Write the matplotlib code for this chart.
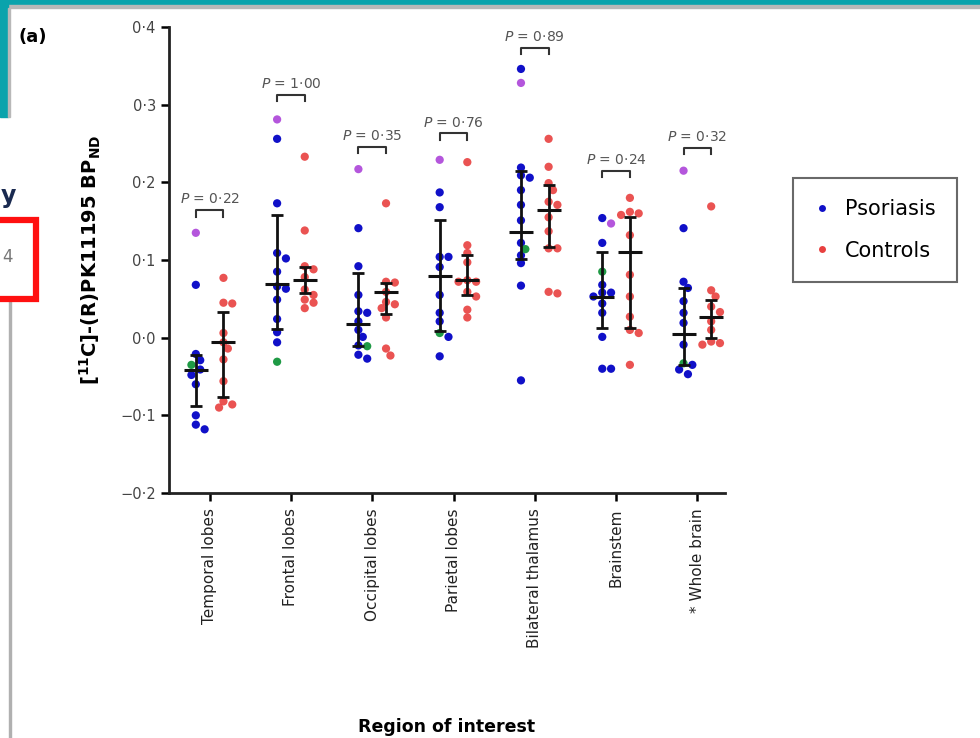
import numpy as np
import matplotlib.pyplot as plt
from matplotlib.patches import Rectangle
from matplotlib.lines import Line2D
from matplotlib.ticker import FuncFormatter

# regions on the x axis
regions = ['Temporal lobes', 'Frontal lobes', 'Occipital lobes', 'Parietal lobes',
           'Bilateral thalamus', 'Brainstem', '* Whole brain']

# psoriasis group (blue), plus the two highlighted patients (purple, green)
psor_blue = [
    [0.068, -0.021, -0.029, -0.041, -0.048, -0.060, -0.100, -0.112, -0.118],
    [0.256, 0.173, 0.109, 0.102, 0.085, 0.066, 0.063, 0.049, 0.024, 0.007, -0.006],
    [0.141, 0.092, 0.055, 0.034, 0.032, 0.021, 0.010, 0.001, -0.010, -0.022, -0.027],
    [0.187, 0.168, 0.104, 0.104, 0.091, 0.055, 0.032, 0.021, 0.001, -0.024],
    [0.346, 0.219, 0.209, 0.206, 0.190, 0.171, 0.151, 0.122, 0.106, 0.096, 0.067, -0.055],
    [0.154, 0.122, 0.068, 0.058, 0.058, 0.053, 0.044, 0.032, 0.001, -0.040, -0.040],
    [0.141, 0.072, 0.064, 0.047, 0.032, 0.019, -0.009, -0.035, -0.041, -0.047],
]
psor_purple = [0.135, 0.281, 0.217, 0.229, 0.328, 0.147, 0.215]
psor_green = [-0.035, -0.031, -0.011, 0.006, 0.114, 0.085, -0.033]

# controls (red)
ctrl = [
    [0.077, 0.045, 0.044, 0.006, -0.006, -0.014, -0.028, -0.056, -0.082, -0.086, -0.090],
    [0.233, 0.138, 0.092, 0.088, 0.078, 0.062, 0.055, 0.049, 0.045, 0.038],
    [0.173, 0.072, 0.071, 0.059, 0.046, 0.043, 0.038, 0.026, -0.014, -0.023],
    [0.226, 0.119, 0.109, 0.097, 0.074, 0.072, 0.072, 0.059, 0.053, 0.036, 0.026],
    [0.256, 0.220, 0.199, 0.190, 0.175, 0.171, 0.155, 0.137, 0.115, 0.115, 0.059, 0.057],
    [0.180, 0.162, 0.160, 0.158, 0.132, 0.081, 0.053, 0.027, 0.010, 0.006, -0.035],
    [0.169, 0.061, 0.053, 0.040, 0.033, 0.021, 0.010, -0.005, -0.007, -0.009],
]

# summary bars (centre line, lower and upper whisker)
psor_mid = [-0.041, 0.069, 0.018, 0.080, 0.136, 0.053, 0.005]
psor_lo = [-0.088, 0.011, -0.011, 0.009, 0.101, 0.013, -0.035]
psor_hi = [-0.022, 0.158, 0.083, 0.151, 0.215, 0.110, 0.064]
ctrl_mid = [-0.006, 0.074, 0.059, 0.074, 0.164, 0.110, 0.027]
ctrl_lo = [-0.077, 0.057, 0.031, 0.055, 0.117, 0.013, 0.000]
ctrl_hi = [0.033, 0.091, 0.071, 0.106, 0.196, 0.155, 0.049]

# p values and bracket heights
p_text = ['0·22', '1·00', '0·35', '0·76', '0·89', '0·24', '0·32']
p_height = [0.164, 0.313, 0.246, 0.263, 0.373, 0.215, 0.244]

BLUE = '#1010c8'
RED = '#e8403f'
PURPLE = '#b456dc'
GREEN = '#1f9a45'

W, H = 980, 738
fig = plt.figure(figsize=(W / 100, H / 100), dpi=100)
fig.patch.set_facecolor('white')
ax = fig.add_axes([169 / W, 1 - 493 / H, 556 / W, 466 / H])

XMIN, XMAX, YMIN, YMAX = -0.5, 6.34, -0.2, 0.4
sx = 556 / (XMAX - XMIN)   # px per x unit
sy = 466 / (YMAX - YMIN)   # px per y unit
DOT = 8.0                  # dot diameter in px
OFF = 0.17


def swarm(vals):
    # simple beeswarm: push dots sideways until they stop overlapping
    order = np.argsort(vals)[::-1]
    placed = []
    offs = np.zeros(len(vals))
    cands = [0]
    for k in range(1, 6):
        cands += [k * 0.55 * DOT, -k * 0.55 * DOT]
    for i in order:
        y = vals[i] * sy
        for c in cands:
            if all((c - px) ** 2 + (y - py) ** 2 >= (DOT * 0.95) ** 2 for px, py in placed):
                break
        placed.append((c, y))
        offs[i] = c / sx
    return offs


for i in range(len(regions)):
    xb = i - OFF
    xr = i + OFF
    pv = psor_blue[i] + [psor_purple[i], psor_green[i]]
    cols = [BLUE] * len(psor_blue[i]) + [PURPLE, GREEN]
    o = swarm(np.array(pv))
    ax.scatter(xb + o, pv, s=DOT ** 2 * 0.55, c=cols, edgecolors='none', zorder=2)
    cv = np.array(ctrl[i])
    o = swarm(cv)
    ax.scatter(xr + o, cv, s=DOT ** 2 * 0.55, c=RED, edgecolors='none', alpha=0.9, zorder=2)

    for x, m, lo, hi in [(xb, psor_mid[i], psor_lo[i], psor_hi[i]),
                         (xr, ctrl_mid[i], ctrl_lo[i], ctrl_hi[i])]:
        ax.errorbar(x, m, yerr=[[m - lo], [hi - m]], fmt='none', ecolor='#111111',
                    elinewidth=2, capsize=4.5, capthick=2, zorder=3)
        ax.plot(x, m, marker='_', ms=17, mew=2.2, color='#111111', zorder=3)

    # p value bracket
    h = p_height[i]
    ax.plot([xb, xb, xr, xr], [h - 0.008, h, h, h - 0.008], color='#333333', lw=1.5,
            clip_on=False)
    ax.text(i, h + 0.005, f'$P$ = {p_text[i]}', ha='center', va='bottom',
            fontsize=10, color='#555555')

ax.set_xlim(XMIN, XMAX)
ax.set_ylim(YMIN, YMAX)
ax.set_yticks(np.arange(-0.2, 0.41, 0.1))
ax.yaxis.set_major_formatter(FuncFormatter(
    lambda v, p: f'{v:.1f}'.replace('.', '·').replace('-', '−')))
ax.set_xticks(range(len(regions)))
ax.set_xticklabels(regions, rotation=90, fontsize=11, color='#222222')
ax.tick_params(axis='y', labelsize=10.5, labelcolor='#444444', width=1.8, length=6)
ax.tick_params(axis='x', width=1.8, length=6, pad=5)
for s in ['top', 'right']:
    ax.spines[s].set_visible(False)
for s in ['left', 'bottom']:
    ax.spines[s].set_linewidth(2)
    ax.spines[s].set_color('#222222')

ax.set_ylabel(r'[$^{\mathbf{11}}$C]-(R)PK11195 BP$_{\mathbf{ND}}$', fontsize=14,
              fontweight='bold', labelpad=12)
ax.set_xlabel('Region of interest', fontsize=12.5, fontweight='bold', labelpad=50)

handles = [Line2D([], [], ls='none', marker='o', ms=5, color=BLUE, mec='none'),
           Line2D([], [], ls='none', marker='o', ms=5, color=RED, mec='none')]
leg = fig.legend(handles, ['Psoriasis', 'Controls'], loc='upper left',
                 bbox_to_anchor=(793 / W, 1 - 178 / H), fontsize=15, frameon=True,
                 fancybox=False, edgecolor='#444444', borderpad=1.0, labelspacing=1.05,
                 handlelength=0.8, handletextpad=0.7, borderaxespad=0)
leg.get_frame().set_linewidth(1.5)

fig.text(18 / W, 1 - 37 / H, '(a)', fontsize=13, fontweight='bold', va='center')

# bits of the surrounding slide that show in the screenshot
def px_rect(x, y, w, h, **kw):
    fig.add_artist(Rectangle((x / W, 1 - (y + h) / H), w / W, h / H,
                             transform=fig.transFigure, **kw))


px_rect(0, 0, W, 5, color='#0aa3ac', zorder=5)
px_rect(0, 5, W, 3, color='#b8b8b8', zorder=5)
px_rect(0, 0, 8, 117, color='#0aa3ac', zorder=5)
px_rect(8, 8, 2, 109, color='#b8b8b8', zorder=5)
px_rect(9, 300, 2, 438, color='#b0b0b0', zorder=5)
px_rect(-6, 220, 42, 79, fill=False, edgecolor='#ff1010', lw=4.5, zorder=5)
fig.text(1 / W, 1 - 196 / H, 'y', fontsize=17, fontweight='bold', color='#1a2a50',
         va='center', ha='left')
fig.text(2 / W, 1 - 257 / H, '4', fontsize=12, color='#777777', va='center', ha='left')

fig.savefig('out.png', dpi=100)
